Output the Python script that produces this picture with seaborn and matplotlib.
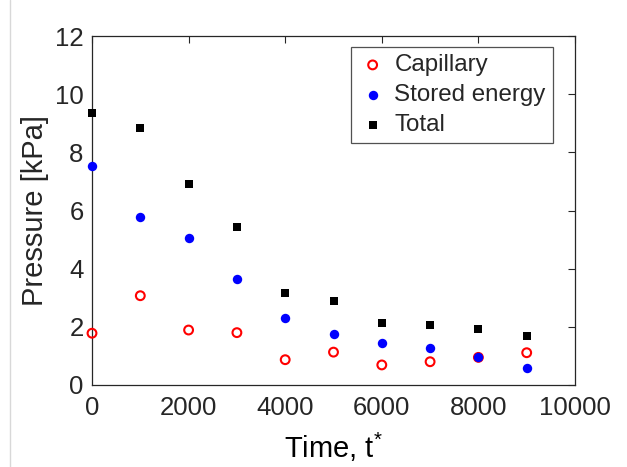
import matplotlib
matplotlib.use("Agg")
import matplotlib.pyplot as plt
from matplotlib.lines import Line2D
import seaborn as sns
import pandas as pd

time = [0, 1000, 2000, 3000, 4000, 5000, 6000, 7000, 8000, 9000]
capillary = [1.78, 3.07, 1.89, 1.80, 0.87, 1.13, 0.69, 0.80, 0.95, 1.11]
stored_energy = [7.54, 5.77, 5.04, 3.63, 2.29, 1.74, 1.43, 1.26, 0.97, 0.57]
total = [9.34, 8.85, 6.92, 5.43, 3.15, 2.89, 2.12, 2.05, 1.91, 1.68]
x_ticks = [0, 2000, 4000, 6000, 8000, 10000]
y_ticks = [0, 2, 4, 6, 8, 10, 12]

df = pd.DataFrame({"Time": time, "Capillary": capillary,
                   "Stored energy": stored_energy, "Total": total})

sns.set_theme(style="white")
plt.rcParams['font.family'] = ['Liberation Sans', 'DejaVu Sans']
plt.rcParams['mathtext.fontset'] = 'custom'
plt.rcParams['mathtext.rm'] = 'Liberation Sans'
plt.rcParams['mathtext.it'] = 'Liberation Sans'

fig = plt.figure(figsize=(6.27, 4.67), dpi=100)
ax = fig.add_axes([92/627, 82/467, 483/627, 349/467])

sns.scatterplot(data=df, x="Time", y="Capillary", ax=ax, marker="o", s=40,
                facecolors="none", edgecolor="#ff0000", linewidth=1.5,
                label="Capillary", clip_on=False, zorder=3)
sns.scatterplot(data=df, x="Time", y="Stored energy", ax=ax, marker="o", s=46,
                color="#0000ff", edgecolor="#0000ff", linewidth=0,
                label="Stored energy", clip_on=False, zorder=3)
sns.scatterplot(data=df, x="Time", y="Total", ax=ax, marker="s", s=30,
                color="black", edgecolor="black", linewidth=0,
                label="Total", clip_on=False, zorder=3)

ax.set_xlim(0, 10000)
ax.set_ylim(0, 12)
ax.set_xticks(x_ticks)
ax.set_yticks(y_ticks)
ax.tick_params(direction="in", length=5, width=0.8, top=True, right=True,
               labelsize=18.5, colors="#262626")
ax.tick_params(axis="x", pad=8)
ax.tick_params(axis="y", pad=6)
for sp in ax.spines.values():
    sp.set_color("#262626")
    sp.set_linewidth(0.9)

ax.set_xlabel("Time, t$^{*}$", fontsize=21, color="#000000", labelpad=8)
ax.set_ylabel("Pressure [kPa]", fontsize=21, color="#262626", labelpad=4)

leg = ax.legend(loc="upper right", bbox_to_anchor=(553/627, 1 - 47/467),
                bbox_transform=fig.transFigure, fontsize=17.4, frameon=True,
                fancybox=False, edgecolor="#262626", handletextpad=0.3,
                handlelength=1.2, borderpad=0.3, labelspacing=0.33,
                borderaxespad=0)
leg.get_frame().set_linewidth(0.9)

fig.add_artist(Line2D([10/627, 10/627], [0, 1], transform=fig.transFigure,
                      color="#d8d8d8", linewidth=1))

fig.savefig("out.png", dpi=100)
